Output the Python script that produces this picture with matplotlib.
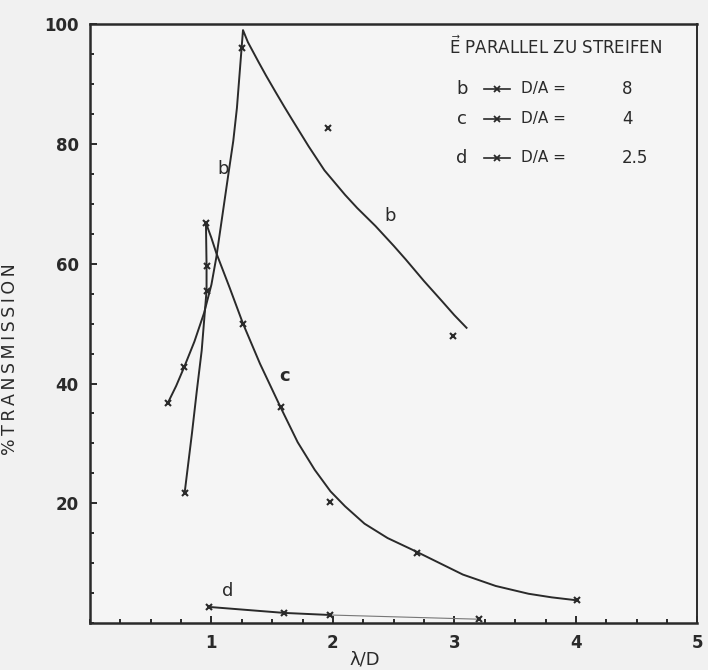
import numpy as np
import matplotlib.pyplot as plt
from matplotlib.ticker import MultipleLocator

# Kurve b (D/A = 8): gezeichnete Linie und Messpunkte
b_line_x = [0.64, 0.71, 0.775, 0.86, 0.94, 1.00, 1.04, 1.09, 1.14, 1.18, 1.21, 1.235, 1.26,
            1.30, 1.39, 1.45, 1.53, 1.60, 1.66, 1.80, 1.93, 2.10, 2.20, 2.35, 2.50, 2.60, 2.75,
            2.90, 3.00, 3.10]
b_line_y = [36.7, 39.6, 42.7, 47.0, 51.8, 56.5, 61.0, 68.0, 75.0, 80.5, 86.0, 92.5, 99.0,
            97.0, 93.6, 91.4, 88.6, 86.2, 84.2, 79.6, 75.6, 71.5, 69.3, 66.3, 63.0, 60.7, 57.1,
            53.7, 51.4, 49.3]
b_pts_x = [0.64, 0.775, 1.25, 1.96, 2.99]
b_pts_y = [36.7, 42.7, 96.0, 82.7, 48.0]

# Kurve c (D/A = 4)
c_line_x = [0.78, 0.84, 0.88, 0.92, 0.96, 0.96, 0.955, 1.00, 1.04, 1.15, 1.26, 1.40, 1.57,
            1.71, 1.85, 1.98, 2.10, 2.26, 2.45, 2.68, 2.85, 3.07, 3.34, 3.61, 3.80, 4.01]
c_line_y = [21.8, 31.7, 38.8, 45.5, 55.5, 59.7, 66.8, 64.3, 61.8, 56.0, 50.0, 43.3, 36.0,
            30.2, 25.6, 22.0, 19.5, 16.6, 14.2, 12.0, 10.3, 8.1, 6.2, 4.9, 4.3, 3.8]
c_pts_x = [0.78, 0.96, 0.96, 0.955, 1.26, 1.57, 1.98, 2.69, 4.01]
c_pts_y = [21.8, 55.5, 59.7, 66.8, 50.0, 36.0, 20.2, 11.7, 3.8]

# Kurve d (D/A = 2.5)
d_x = [0.98, 1.6, 1.98, 3.2]
d_y = [2.7, 1.7, 1.35, 0.65]

legend_names = ['b', 'c', 'd']
legend_ratio = ['8', '4', '2.5']
legend_rows = [89.2, 84.2, 77.7]

ink = '#2a2a2a'
plt.rcParams['font.family'] = ['DejaVu Sans']

fig = plt.figure(figsize=(7.08, 6.7), dpi=100, facecolor='#f1f1f1')
ax = fig.add_axes([0.127, 0.070, 0.858, 0.894])
ax.set_facecolor('#f5f5f5')

ax.plot(b_line_x, b_line_y, color=ink, lw=1.4, solid_joinstyle='round')
ax.plot(b_pts_x, b_pts_y, 'x', color=ink, ms=5, mew=1.5)
ax.plot(c_line_x, c_line_y, color=ink, lw=1.4, solid_joinstyle='round')
ax.plot(c_pts_x, c_pts_y, 'x', color=ink, ms=5, mew=1.5)
ax.plot(d_x[:3], d_y[:3], color=ink, lw=1.4)
ax.plot(d_x[2:], d_y[2:], color='#777777', lw=0.8)
ax.plot(d_x, d_y, 'x', color=ink, ms=5, mew=1.5)

# Kurvenbeschriftung
ax.text(1.10, 75.8, 'b', fontsize=13, color=ink, ha='center', va='center')
ax.text(2.47, 68.0, 'b', fontsize=13, color=ink, ha='center', va='center')
ax.text(1.60, 41.3, 'c', fontsize=13, color=ink, ha='center', va='center', fontweight='bold')
ax.text(1.13, 5.3, 'd', fontsize=13, color=ink, ha='center', va='center')

# Legende oben rechts
ax.text(3.83, 96.3, r'$\vec{\mathrm{E}}$ PARALLEL ZU STREIFEN', fontsize=12,
        color=ink, ha='center', va='center')
for name, ratio, row in zip(legend_names, legend_ratio, legend_rows):
    ax.text(3.06, row, name, fontsize=13, color=ink, ha='center', va='center')
    ax.plot([3.24, 3.46], [row, row], color=ink, lw=1.2)
    ax.plot([3.35], [row], 'x', color=ink, ms=4, mew=1.3)
    ax.text(3.55, row, 'D/A =', fontsize=11, color=ink, ha='left', va='center')
    ax.text(4.38, row, ratio, fontsize=12, color=ink, ha='left', va='center')

ax.set_xlim(0, 5)
ax.set_ylim(0, 100)
ax.set_xticks([1, 2, 3, 4, 5])
ax.set_yticks([20, 40, 60, 80, 100])
ax.xaxis.set_minor_locator(MultipleLocator(0.25))
ax.yaxis.set_minor_locator(MultipleLocator(5))
ax.tick_params(which='both', direction='in', color=ink, width=1.4)
ax.tick_params(which='major', length=5, labelsize=12, pad=8, labelcolor=ink)
ax.tick_params(which='minor', length=3)
for lab in ax.get_xticklabels() + ax.get_yticklabels():
    lab.set_fontweight('bold')
for s in ax.spines.values():
    s.set_color(ink)
    s.set_linewidth(1.8)
ax.spines['right'].set_linewidth(1.4)

ax.set_ylabel('%\u2009T\u2009R\u2009A\u2009N\u2009S\u2009M\u2009I\u2009S\u2009S\u2009I\u2009O\u2009N',
              fontsize=12.5, color=ink)
ax.yaxis.set_label_coords(-0.117, 0.44)
ax.set_xlabel('λ/D', fontsize=13, color=ink)
ax.xaxis.set_label_coords(0.453, -0.045)

fig.savefig('out.png', dpi=100, facecolor=fig.get_facecolor())
